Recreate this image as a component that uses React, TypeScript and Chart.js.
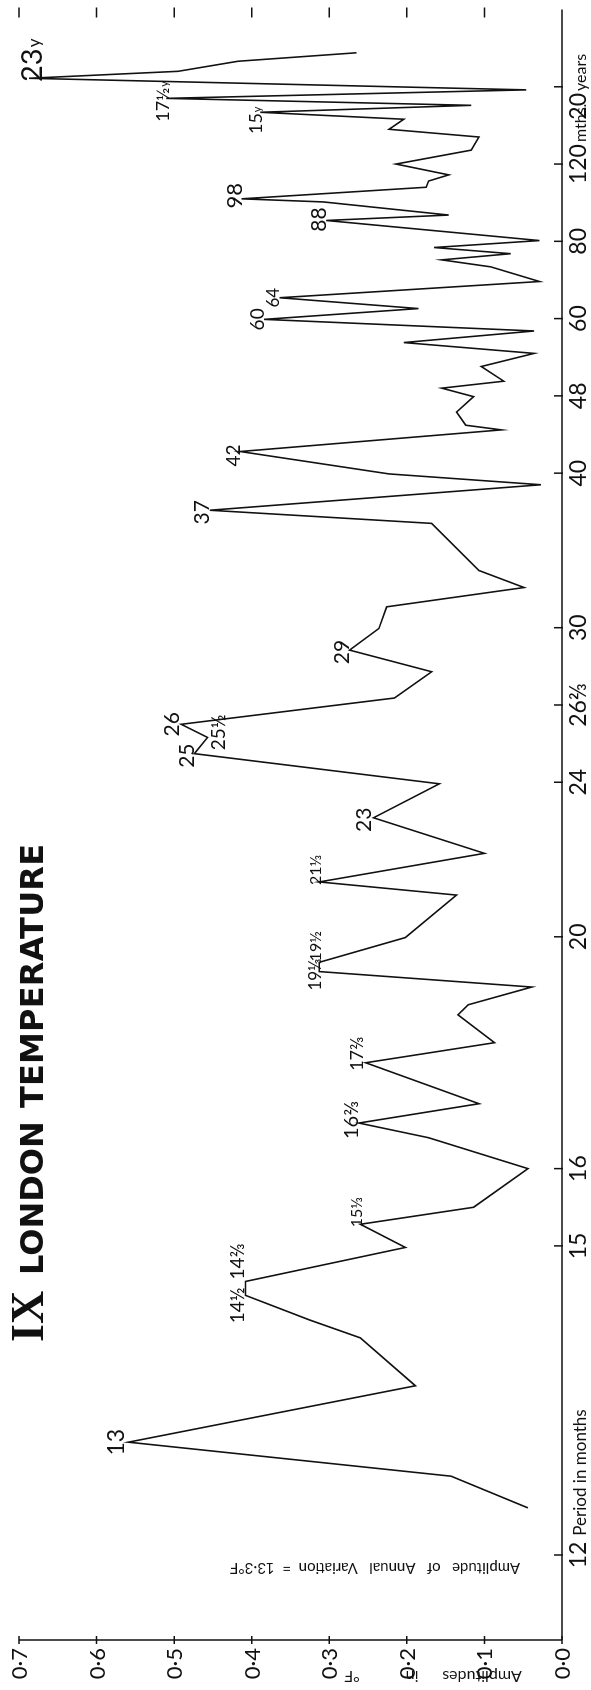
import React, { useEffect, useRef } from "react";
import { Chart, registerables } from "chart.js";
Chart.register(...registerables);

// harmonic number n (period = 240 / n months) and amplitude in °F
const harmonic = [
  0.56, 0.67, 0.8, 0.89, 1.04, 1.15, 1.24, 1.33, 1.42, 1.55, 1.65, 1.82, 2.0, 2.14, 2.22, 2.3, 2.45, 2.49, 2.66, 2.73,
  2.99, 3.08, 3.16, 3.24, 3.33, 3.52, 3.73, 3.87, 4.01, 4.16, 4.31, 4.45, 4.62, 4.81, 4.9, 5.01, 5.21, 5.38, 5.44, 5.72,
  6.01, 6.15, 6.48, 6.65, 7.26, 7.48, 7.73, 8.01, 8.29, 8.57, 8.91, 9.25, 9.42, 9.63, 10.02, 10.46, 10.92, 11.29, 11.46,
  12.01, 12.33, 12.45, 12.65, 12.88, 13.01, 13.37, 13.63, 14.16, 14.41, 14.6, 15.0, 15.5, 15.72, 16.02, 16.46, 16.64,
  16.96, 17.19, 17.81, 18.54, 18.98, 19.39,
];
const amplitude = [
  0.265, 0.418, 0.495, 0.687, 0.046, 0.51, 0.117, 0.389, 0.204, 0.223, 0.107, 0.117, 0.214, 0.146, 0.172, 0.175, 0.413,
  0.308, 0.146, 0.304, 0.029, 0.165, 0.066, 0.155, 0.092, 0.029, 0.364, 0.185, 0.384, 0.036, 0.204, 0.036, 0.104, 0.075,
  0.155, 0.114, 0.136, 0.124, 0.078, 0.415, 0.223, 0.027, 0.454, 0.168, 0.107, 0.049, 0.226, 0.236, 0.274, 0.168, 0.216,
  0.491, 0.457, 0.474, 0.158, 0.243, 0.1, 0.313, 0.136, 0.202, 0.313, 0.313, 0.039, 0.121, 0.134, 0.087, 0.253, 0.107,
  0.262, 0.172, 0.044, 0.114, 0.26, 0.202, 0.408, 0.408, 0.325, 0.26, 0.189, 0.559, 0.143, 0.044,
];

// peak annotations (period of the peak)
const peakIndex = [3, 5, 7, 16, 19, 26, 28, 39, 42, 48, 51, 52, 53, 55, 57, 60, 61, 66, 68, 72, 74, 75, 79];
const peakText = ["23", "17½", "15", "98", "88", "64", "60", "42", "37", "29", "26", "25½", "25", "23", "21⅓", "19½", "19⅓", "17⅔", "16⅔", "15⅓", "14⅔", "14½", "13"];
const peakUnit = ["y", "y", "y", "", "", "", "", "", "", "", "", "", "", "", "", "", "", "", "", "", "", "", ""];

// period axis
const periodTickN = [1, 2, 3, 4, 5, 6, 8, 9, 10, 12, 15, 16, 20];
const periodTickText = ["20", "120", "80", "60", "48", "40", "30", "26⅔", "24", "20", "16", "15", "12"];
const periodTickUnit = ["years", "mths.", "", "", "", "", "", "", "", "", "", "", "Period in months"];

// amplitude axis
const amplitudeTicks = [0, 0.1, 0.2, 0.3, 0.4, 0.5, 0.6, 0.7];
const amplitudeTickText = ["0·0", "0·1", "0·2", "0·3", "0·4", "0·5", "0·6", "0·7"];

const titleNumeral = "IX";
const titleWords = ["LONDON", "TEMPERATURE"];
const noteText = "Amplitude   of   Annual   Variation  =  13·3°F";
const amplitudeTitleWords = ["Amplitudes", "in", "°F"];

// ---- layout / style (not data) ----
const W = 1690;
const H = 591;
const FONT = '"Lato", "DejaVu Sans", sans-serif';
const peakOffset: [number, number][] = [
  [18, 2], [-3, -4], [-8, -5], [3, -8], [1, -8], [0, -7], [0, -7], [-4, -7], [-2, -8], [-2, -8], [0, -10], [5, 11],
  [-2, -8], [-2, -10], [12, -4], [16, -4], [-3, -4], [9, -9], [3, -8], [12, -4], [20, -8], [-10, -8], [0, -13],
];
const peakFont = [29, 18, 18, 22, 21, 17, 19, 19, 21, 21, 21, 19, 21, 21, 16, 16, 17, 18, 20, 16, 19, 19, 23];
const titleSpans: [number, number][] = [[415, 562], [582, 846]];
const amplitudeTitleCentres = [482, 412, 352];

function drawLabel(ctx: CanvasRenderingContext2D, cx: number, cy: number, main: string, size: number, unit: string) {
  ctx.font = `${size}px ${FONT}`;
  const w1 = ctx.measureText(main).width;
  const sub = Math.round(size * 0.6);
  let w2 = 0;
  if (unit) {
    ctx.font = `${sub}px ${FONT}`;
    w2 = ctx.measureText(unit).width + 1;
  }
  const start = cx - (w1 + w2) / 2;
  const base = cy + size * 0.36;
  ctx.textAlign = "left";
  ctx.textBaseline = "alphabetic";
  ctx.font = `${size}px ${FONT}`;
  ctx.fillText(main, start, base);
  if (unit) {
    ctx.font = `${sub}px ${FONT}`;
    ctx.fillText(unit, start + w1 + 1, base - size * 0.05);
  }
}

const decor = {
  id: "decor",
  beforeDraw(chart: any) {
    const { ctx } = chart;
    ctx.save();
    ctx.fillStyle = "#fff";
    ctx.fillRect(0, 0, chart.width, chart.height);
    ctx.restore();
  },
  afterDraw(chart: any) {
    const { ctx, chartArea: ca } = chart;
    const xs = chart.scales.x;
    const ys = chart.scales.y;
    ctx.save();
    ctx.strokeStyle = "#111";
    ctx.fillStyle = "#111";
    ctx.lineWidth = 1.5;
    // axes
    ctx.beginPath();
    ctx.moveTo(ca.left, ca.bottom);
    ctx.lineTo(ca.right, ca.bottom);
    ctx.moveTo(ca.left, ys.getPixelForValue(0.7));
    ctx.lineTo(ca.left, ca.bottom);
    ctx.stroke();

    // period ticks and labels
    periodTickN.forEach((n, i) => {
      const px = xs.getPixelForValue(n);
      ctx.beginPath();
      ctx.moveTo(px, ca.bottom - 8);
      ctx.lineTo(px, ca.bottom + 1);
      ctx.stroke();
      const base = ca.bottom + 24;
      ctx.textBaseline = "alphabetic";
      ctx.font = `23px ${FONT}`;
      const wn = ctx.measureText(periodTickText[i]).width;
      const unit = periodTickUnit[i];
      const unitSize = unit === "Period in months" ? 17 : 16;
      ctx.font = `${unitSize}px ${FONT}`;
      const wu = unit ? ctx.measureText(unit).width : 0;
      const gap = unit === "Period in months" ? 6 : 2;
      let start = px - wn / 2;
      if (unit === "years") start = px - (wn + gap + wu) / 2;
      ctx.textAlign = "left";
      ctx.font = `23px ${FONT}`;
      ctx.fillText(periodTickText[i], start, base);
      if (unit) {
        ctx.font = `${unitSize}px ${FONT}`;
        ctx.fillText(unit, start + wn + gap, base);
      }
    });

    // amplitude ticks and labels
    amplitudeTicks.forEach((a, i) => {
      const py = ys.getPixelForValue(a);
      ctx.beginPath();
      ctx.moveTo(ca.left - 4, py);
      ctx.lineTo(ca.left + 4, py);
      if (a > 0) {
        ctx.moveTo(ca.right - 8, py);
        ctx.lineTo(ca.right + 2, py);
      }
      ctx.stroke();
      ctx.font = `22px ${FONT}`;
      ctx.textAlign = "right";
      ctx.textBaseline = "alphabetic";
      ctx.fillText(amplitudeTickText[i], ca.left - 8, py + 8);
    });

    // peak labels
    const meta = chart.getDatasetMeta(0);
    peakIndex.forEach((idx, i) => {
      const el = meta.data[idx];
      drawLabel(ctx, el.x + peakOffset[i][0], el.y + peakOffset[i][1], peakText[i], peakFont[i], peakUnit[i]);
    });

    // title
    ctx.textAlign = "left";
    ctx.textBaseline = "alphabetic";
    ctx.font = `bold 46px "Liberation Serif", serif`;
    ctx.fillText(titleNumeral, 348, 43);
    ctx.font = `bold 32px "DejaVu Sans", sans-serif`;
    titleWords.forEach((word, i) => {
      const [x0, x1] = titleSpans[i];
      (ctx as any).letterSpacing = "0px";
      const w = ctx.measureText(word).width;
      const sp = Math.max(0, (x1 - x0 - w) / (word.length - 1));
      (ctx as any).letterSpacing = `${sp}px`;
      ctx.fillText(word, x0, 43);
    });
    (ctx as any).letterSpacing = "0px";

    // rotated notes
    ctx.font = `15px ${FONT}`;
    ctx.textAlign = "center";
    ctx.textBaseline = "middle";
    ctx.save();
    ctx.translate(122, 375);
    ctx.rotate(-Math.PI / 2);
    ctx.fillText(noteText, 0, 0);
    ctx.restore();
    ctx.font = `16px ${FONT}`;
    amplitudeTitleWords.forEach((word, i) => {
      ctx.save();
      ctx.translate(14, amplitudeTitleCentres[i]);
      ctx.rotate(-Math.PI / 2);
      ctx.fillText(word, 0, 0);
      ctx.restore();
    });

    ctx.restore();
  },
};

export default function App() {
  const ref = useRef<HTMLCanvasElement>(null);
  useEffect(() => {
    const points = harmonic.map((n, i) => ({ x: n, y: amplitude[i] }));
    const chart = new Chart(ref.current as HTMLCanvasElement, {
      type: "line",
      data: {
        datasets: [
          {
            data: points,
            borderColor: "#111",
            borderWidth: 1.6,
            pointRadius: 0,
            tension: 0,
            fill: false,
          },
        ],
      },
      options: {
        animation: false,
        responsive: false,
        devicePixelRatio: 1,
        layout: { padding: { left: 50, right: 9.5, top: 19, bottom: 29 } },
        scales: {
          x: { type: "linear", min: 0, max: 21.1, reverse: true, display: false },
          y: { type: "linear", min: 0, max: 0.7, display: false },
        },
        plugins: { legend: { display: false }, tooltip: { enabled: false } },
      },
      plugins: [decor],
    } as any);
    return () => chart.destroy();
  }, []);
  return (
    <div style={{ position: "absolute", left: 0, top: 0, width: 591, height: 1690, overflow: "hidden", background: "#fff" }}>
      <div
        style={{
          position: "absolute",
          left: 0,
          top: 0,
          width: W,
          height: H,
          transformOrigin: "0 0",
          transform: `translate(0px, ${W}px) rotate(-90deg)`,
        }}
      >
        <canvas ref={ref} width={W} height={H} style={{ display: "block", width: W, height: H }} />
      </div>
    </div>
  );
}
